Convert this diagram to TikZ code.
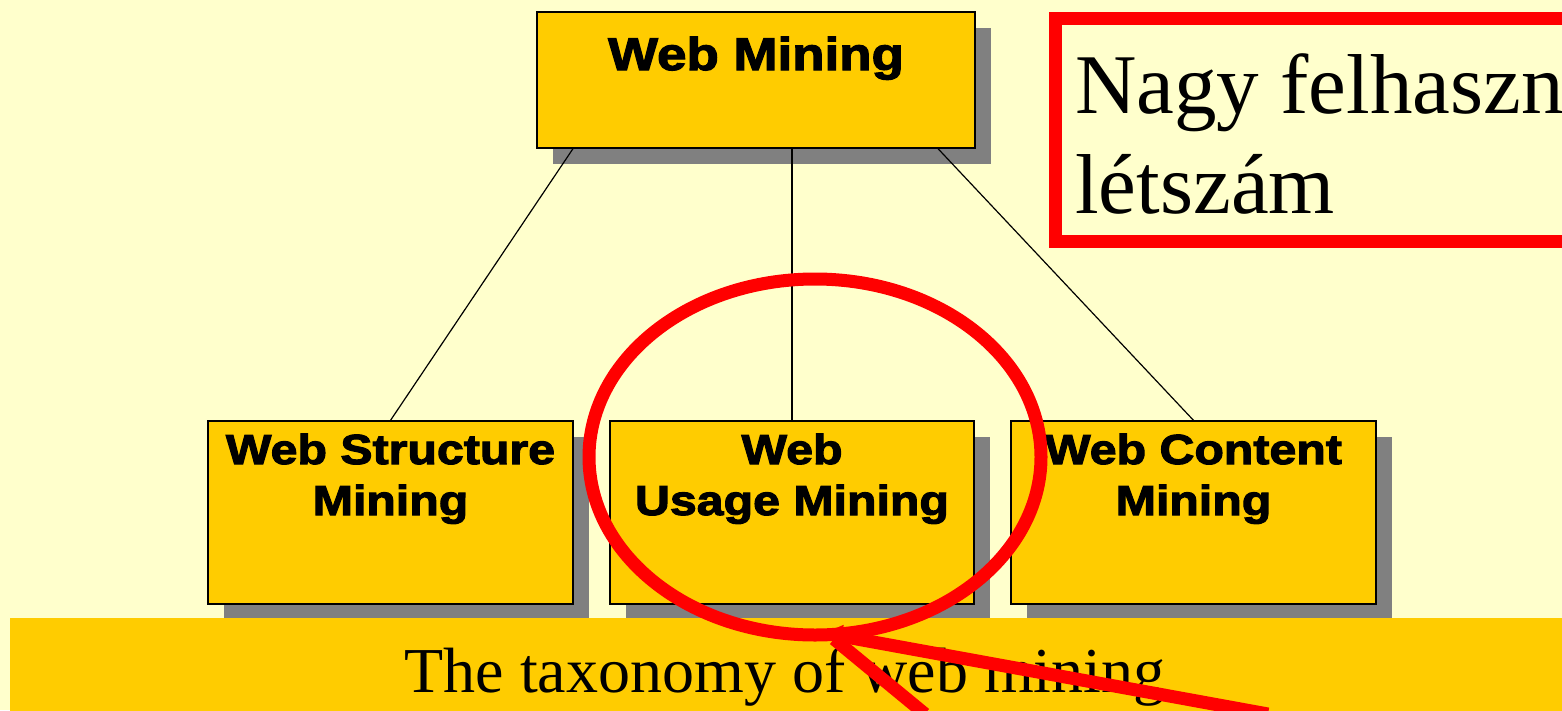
\documentclass[tikz,border=0pt]{standalone}
\usepackage{fontspec}
\setmainfont{Liberation Serif}
\newfontfamily\heavyfont{Liberation Sans}[FakeStretch=1.15, BoldFeatures={FakeBold=2.6}]
\usetikzlibrary{shadows,arrows.meta,calc}

\definecolor{paper}{HTML}{FFFFCC}
\definecolor{gold}{HTML}{FFCC00}
\definecolor{shade}{HTML}{808080}
\definecolor{alert}{HTML}{FF0000}

\tikzset{
  taxbox/.style={draw=black, line width=1.3pt, fill=gold, inner sep=0pt,
    drop shadow={shadow xshift=16pt, shadow yshift=-16pt, opacity=1, fill=shade}},
  boldlabel/.style={font=\heavyfont\bfseries\fontsize{42}{50}\selectfont, anchor=base, inner sep=0pt},
  link/.style={draw=black, line width=1.2pt},
  redstroke/.style={draw=alert, line width=13pt},
  serifbig/.style={font=\fontsize{85}{100}\selectfont, anchor=base west, inner sep=0pt}
}

\begin{document}
\begin{tikzpicture}[x=1pt, y=-1pt]
  \useasboundingbox (0,0) rectangle (1562,710);
  \clip (0,0) rectangle (1562,710);
  \fill[paper] (0,0) rectangle (1562,710);

  % hierarchy boxes
  \node[taxbox, minimum width=438pt, minimum height=136pt] (root) at (756,80) {};
  \node[taxbox, minimum width=365pt, minimum height=183pt] (struct) at (390.5,512.5) {};
  \node[taxbox, minimum width=364pt, minimum height=183pt] (usage) at (792,512.5) {};
  \node[taxbox, minimum width=365pt, minimum height=183pt] (content) at (1193.5,512.5) {};

  % box captions
  \node[boldlabel, font=\heavyfont\bfseries\fontsize{46}{54}\selectfont] (rootA) at (756,70) {Web Mining};
  \node[boldlabel] (structA) at (390.5,464) {Web Structure};
  \node[boldlabel] (structB) at (390.5,515) {Mining};
  \node[boldlabel] (usageA) at (792,464) {Web};
  \node[boldlabel] (usageB) at (792,515) {Usage Mining};
  \node[boldlabel] (contentA) at (1193.5,464) {Web Content};
  \node[boldlabel] (contentB) at (1193.5,515) {Mining};

  % connectors
  \draw[link] ($(root.south)+(-183,0)$) -- (struct.north);
  \draw[link] (root.south -| usage.north) -- (usage.north);
  \draw[link] ($(root.south)+(182,0)$) -- (content.north);

  % caption band
  \fill[gold] (10,618) rectangle (1575,720);
  \node[font=\fontsize{64}{76}\selectfont, anchor=base, inner sep=0pt] (caption) at (785,692) {The taxonomy of web mining};

  % red highlight
  \draw[redstroke] (815,457) ellipse [x radius=226pt, y radius=178pt];
  \coordinate (tip) at (824,633);
  \coordinate (tailA) at (1268,714);
  \coordinate (tailB) at (925,714);
  \draw[redstroke, -{Triangle[length=18pt,width=22pt]}] (tailA) -- (tip);
  \draw[redstroke] (tailB) -- ($(tip)+(10,6)$);

  % side remark, running past the right edge
  \draw[redstroke] (1055,18.5) rectangle (1620,241.5);
  \node[serifbig] (remarkA) at (1075,113) {Nagy felhaszn};
  \node[serifbig] (remarkB) at (1075,213) {létszám};
\end{tikzpicture}
\end{document}
